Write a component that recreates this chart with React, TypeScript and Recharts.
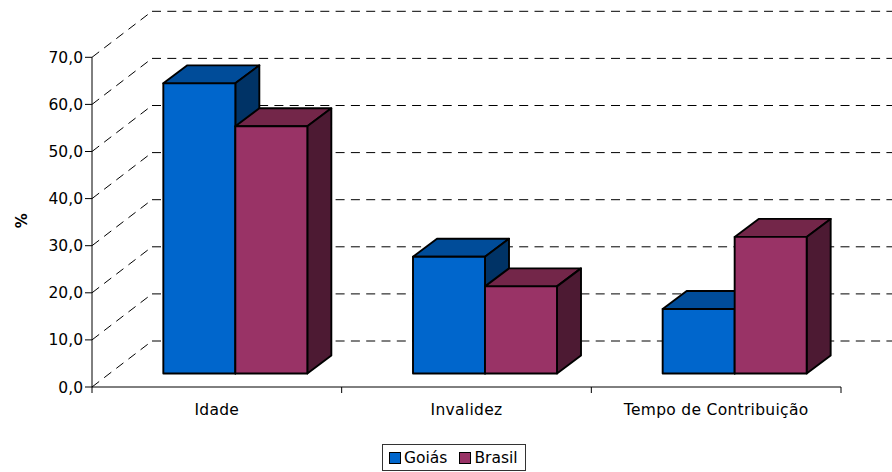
import { BarChart, Bar, XAxis, YAxis, CartesianGrid, Legend } from "recharts";

const categories = ["Idade", "Invalidez", "Tempo de Contribuição"];
const goias = [61.6, 24.8, 13.7];
const brasil = [52.5, 18.5, 29.0];
const yTicks = [0, 10, 20, 30, 40, 50, 60, 70];

const data = categories.map((name, i) => ({ name, "Goiás": goias[i], Brasil: brasil[i] }));

const FONT = "'DejaVu Sans', sans-serif";
const BLUE = ["#0066CC", "#004C99", "#003366"];
const PURPLE = ["#993366", "#732649", "#4D1A33"];

// 3d look: the wall sits this far back from the axes, bars stand part of the way in
const WALL_DX = 60;
const WALL_DY = 46;
const BAR_DX = 18;
const BAR_DY = 13.5;
const DEPTH_DX = 24;
const DEPTH_DY = 18;

function Box3D(props: any, colors: string[]) {
  const { x, y, width, height } = props;
  const l = x + BAR_DX;
  const r = l + width;
  const t = y - BAR_DY;
  const b = t + height;
  const edge = { stroke: "#000", strokeWidth: 1.9, strokeLinejoin: "round" as const };
  return (
    <g>
      <polygon points={`${l},${t} ${r},${t} ${r + DEPTH_DX},${t - DEPTH_DY} ${l + DEPTH_DX},${t - DEPTH_DY}`} fill={colors[1]} {...edge} />
      <polygon points={`${r},${t} ${r + DEPTH_DX},${t - DEPTH_DY} ${r + DEPTH_DX},${b - DEPTH_DY} ${r},${b}`} fill={colors[2]} {...edge} />
      <rect x={l} y={t} width={width} height={height} fill={colors[0]} {...edge} />
    </g>
  );
}

function WallLine(props: any) {
  const { x1, x2, y1 } = props;
  const dash = { stroke: "#000", strokeWidth: 1, strokeDasharray: "9 6.3" };
  return (
    <g key={`wall-${y1}`}>
      <line x1={x1} y1={y1} x2={x1 + WALL_DX} y2={y1 - WALL_DY} {...dash} />
      <line x1={x1 + WALL_DX} y1={y1 - WALL_DY} x2={x2 + WALL_DX} y2={y1 - WALL_DY} {...dash} />
    </g>
  );
}

// labels in the middle of the band, tick marks on the band edges
function CategoryTick(props: any) {
  const { x, y, payload, index } = props;
  const half = payload.offset;
  const top = y - 8;
  return (
    <g>
      {index === 0 && <line x1={x - half} x2={x - half} y1={top} y2={top + 6} stroke="#000" />}
      <line x1={x + half} x2={x + half} y1={top} y2={top + 6} stroke="#000" />
      <text x={x} y={y + 20} textAnchor="middle" fontFamily={FONT} fontSize={15.5} letterSpacing={0.3} fill="#000">
        {payload.value}
      </text>
    </g>
  );
}

function LegendBox({ payload }: any) {
  return (
    <div style={{ boxSizing: "border-box", width: 144, height: 27, display: "flex", alignItems: "center", border: "1px solid #333", paddingLeft: 6, fontFamily: FONT, fontSize: 15.5, color: "#000", background: "#fff" }}>
      {(payload || []).map((p: any, i: number) => (
        <span key={p.value} style={{ display: "inline-flex", alignItems: "center", marginLeft: i ? 12 : 0 }}>
          <span style={{ boxSizing: "border-box", width: 12, height: 12, background: p.color, border: "1.5px solid #000", marginRight: 3 }} />
          {p.value}
        </span>
      ))}
    </div>
  );
}

export default function App() {
  return (
    <div style={{ position: "absolute", left: 0, top: 0, width: 892, height: 472, overflow: "hidden", background: "#fff" }}>
      <BarChart
        width={892}
        height={472}
        data={data}
        margin={{ top: 57.3, right: 51, bottom: 18, left: 0 }}
        barCategoryGap="21.36%"
        barGap={0}
        style={{ overflow: "hidden" }}
      >
        <CartesianGrid vertical={false} horizontal={WallLine} />
        <XAxis dataKey="name" interval={0} tick={CategoryTick} tickLine={false} height={40} stroke="#000" />
        <YAxis
          type="number"
          domain={[0, 70]}
          ticks={yTicks}
          interval={0}
          width={92}
          stroke="#000"
          tickSize={7}
          tickMargin={2}
          tick={{ fill: "#000", fontFamily: FONT, fontSize: 15.5 }}
          tickFormatter={(v: number) => v.toFixed(1).replace(".", ",")}
          label={{ value: "%", angle: -90, position: "insideLeft", offset: 22, dy: 6, fontFamily: FONT, fontSize: 15, fontWeight: "bold", fill: "#000" }}
        />
        <Bar dataKey="Goiás" fill={BLUE[0]} isAnimationActive={false} shape={(p: any) => Box3D(p, BLUE)} />
        <Bar dataKey="Brasil" fill={PURPLE[0]} isAnimationActive={false} shape={(p: any) => Box3D(p, PURPLE)} />
        <Legend content={LegendBox} itemSorter={null} height={27} wrapperStyle={{ left: 382, top: 444, width: 144, bottom: "auto" }} />
      </BarChart>
    </div>
  );
}
